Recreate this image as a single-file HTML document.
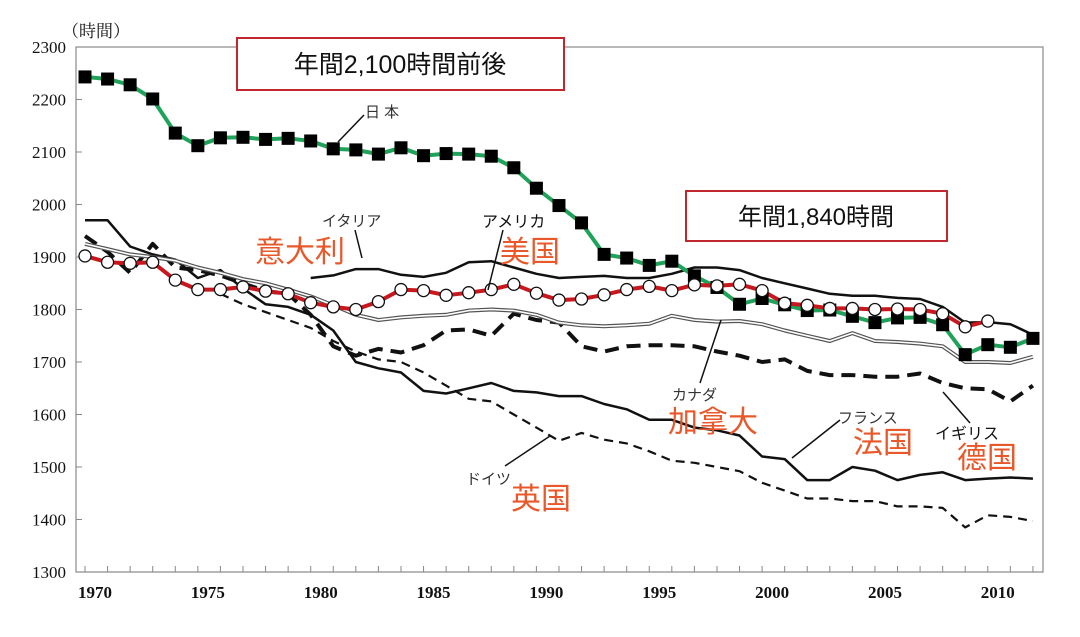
<!DOCTYPE html>
<html><head><meta charset="utf-8">
<style>
html,body{margin:0;padding:0;background:#fff;}
svg{display:block;}
.ax{font-family:"Liberation Serif","Noto Serif CJK SC",serif;font-size:17px;fill:#111;}
.jp{font-family:"Liberation Sans","Noto Sans CJK JP",sans-serif;}
</style></head>
<body>
<svg id="chart" width="1080" height="637" viewBox="0 0 1080 637" xmlns="http://www.w3.org/2000/svg">
<rect x="0" y="0" width="1080" height="637" fill="#fff"/>
<rect x="76" y="47" width="967" height="525" fill="none" stroke="#888" stroke-width="1.2"/>
<g id="axes"></g>
<g id="series"></g>
<text class="ax" x="62" y="37" font-size="15">（時間）</text>
<g>
<rect x="237" y="38" width="327" height="52" fill="#fff" stroke="#c0282d" stroke-width="2"/>
<text class="jp" x="400" y="73" font-size="25" text-anchor="middle" fill="#111">年間2,100時間前後</text>
</g>
<g>
<rect x="686" y="191" width="261" height="50" fill="#fff" stroke="#c0282d" stroke-width="2"/>
<text class="jp" x="816" y="225" font-size="24" text-anchor="middle" fill="#111">年間1,840時間</text>
</g>
<g class="jp" font-size="15" fill="#333">
<text x="365" y="117">日 本</text>
<text x="322" y="226">イタリア</text>
<text x="482" y="227" fill="#111" font-size="16">アメリカ</text>
<text x="672" y="400">カナダ</text>
<text x="838" y="423">フランス</text>
<text x="935" y="439" fill="#111" font-size="16">イギリス</text>
<text x="466" y="484">ドイツ</text>
</g>
<g class="jp" font-size="30" fill="#e8582a">
<text x="255" y="262">意大利</text>
<text x="500" y="262">美国</text>
<text x="668" y="432">加拿大</text>
<text x="853" y="453">法国</text>
<text x="957" y="468">德国</text>
<text x="511" y="509">英国</text>
</g>
<g stroke="#111" stroke-width="1.5" fill="none">
<line x1="364" y1="115" x2="338" y2="142"/>
<line x1="355" y1="230" x2="362" y2="258"/>
<line x1="503" y1="230" x2="488" y2="290"/>
<line x1="700" y1="383" x2="721" y2="320"/>
<line x1="840" y1="420" x2="792" y2="458"/>
<line x1="970" y1="423" x2="943" y2="392"/>
<line x1="505" y1="466" x2="550" y2="436"/>
</g>
</svg>
<script>
const years = [];
for (let y = 1970; y <= 2012; y++) years.push(y);
const yTicks = [1300,1400,1500,1600,1700,1800,1900,2000,2100,2200,2300];
const xLabels = [1970,1975,1980,1985,1990,1995,2000,2005,2010];
const japan = [2243,2239,2228,2201,2136,2112,2127,2128,2124,2126,2121,2106,2104,2096,2108,2093,2097,2096,2092,2070,2031,1998,1965,1905,1898,1884,1892,1864,1842,1810,1821,1809,1798,1799,1787,1775,1784,1785,1771,1714,1733,1728,1745];
const usa = [1902,1890,1888,1890,1856,1838,1838,1843,1835,1830,1813,1805,1800,1815,1838,1836,1827,1832,1838,1848,1831,1818,1820,1828,1838,1844,1836,1847,1845,1848,1836,1812,1808,1802,1802,1800,1801,1800,1792,1767,1778,null,null];
const italy = [null,null,null,null,null,null,null,null,null,null,1860,1865,1877,1877,1866,1862,1870,1890,1892,1880,1868,1860,1862,1864,1860,1860,1868,1880,1880,1875,1860,1850,1840,1830,1826,1826,1822,1820,1805,1775,1776,1772,1752];
const canada = [1925,1915,1905,1900,1893,1880,1870,1858,1850,1838,1825,1808,1790,1780,1785,1788,1790,1798,1800,1798,1790,1775,1770,1768,1770,1773,1788,1780,1777,1778,1772,1760,1750,1740,1755,1740,1738,1735,1730,1700,1700,1698,1710];
const uk = [1940,1910,1870,1925,1880,1875,1865,1850,1835,1830,1790,1730,1712,1725,1718,1732,1760,1762,1750,1792,1780,1775,1730,1720,1730,1732,1732,1730,1720,1712,1700,1705,1683,1675,1675,1672,1672,1678,1660,1650,1648,1625,1655];
const france = [1970,1970,1920,1905,1895,1860,1875,1840,1810,1805,1790,1760,1700,1688,1680,1645,1640,1650,1660,1645,1642,1635,1635,1620,1610,1590,1590,1575,1570,1560,1520,1515,1475,1475,1500,1493,1475,1485,1490,1475,1478,1480,1478];
const germany = [null,null,null,null,null,null,1830,1810,1795,1780,1765,1740,1720,1705,1700,1680,1655,1630,1625,1600,1575,1550,1565,1552,1545,1530,1512,1508,1500,1492,1470,1455,1440,1440,1435,1435,1425,1425,1422,1385,1408,1405,1397];

const NS = "http://www.w3.org/2000/svg";
function xs(yr){ return 85 + (yr - 1970) * 22.57; }
function ys(v){ return 572 - (v - 1300) * 0.525; }
function mk(tag, attrs, parent){ const e = document.createElementNS(NS, tag); for (const k in attrs) e.setAttribute(k, attrs[k]); parent.appendChild(e); return e; }

const axes = document.getElementById('axes');
yTicks.forEach(v => {
  const t = mk('text', {x: 66, y: ys(v) + 6, 'text-anchor': 'end', class: 'ax'}, axes);
  
  
  t.textContent = v;
  const l = mk('line', {x1: 76, x2: 82, y1: ys(v), y2: ys(v), stroke: '#888'}, axes);
  
  
});
years.forEach(yr => {
  const l = mk('line', {x1: xs(yr), x2: xs(yr), y1: 572, y2: 566, stroke: '#888'}, axes);
  
  
});
xLabels.forEach(yr => {
  const t = mk('text', {x: xs(yr) + 10, y: 598, 'text-anchor': 'middle', class: 'ax', 'font-weight': 'bold'}, axes);
  
  
  t.textContent = yr;
});

const g = document.getElementById('series');
function pathOf(arr){
  let d = '', started = false;
  arr.forEach((v, i) => {
    if (v == null) { started = false; return; }
    d += (started ? 'L' : 'M') + xs(years[i]).toFixed(1) + ',' + ys(v).toFixed(1);
    started = true;
  });
  return d;
}
function line(arr, name, attrs){
  const p = mk('path', Object.assign({d: pathOf(arr), fill: 'none', 'stroke-linejoin': 'round'}, attrs), g);
  
  
  return p;
}
line(germany, 'line-germany', {stroke: '#111', 'stroke-width': 2.2, 'stroke-dasharray': '9,6'});
line(france, 'line-france', {stroke: '#111', 'stroke-width': 2.5});
line(uk, 'line-uk', {stroke: '#111', 'stroke-width': 4, 'stroke-dasharray': '14,8'});
line(canada, 'line-canada-outer', {stroke: '#555', 'stroke-width': 4});
line(canada, 'line-canada-inner', {stroke: '#fff', 'stroke-width': 1.6});
line(italy, 'line-italy', {stroke: '#111', 'stroke-width': 2.5});
line(japan, 'line-japan', {stroke: '#1fa35a', 'stroke-width': 4});
line(usa, 'line-usa', {stroke: '#c8181e', 'stroke-width': 4});
japan.forEach((v, i) => {
  if (v == null) return;
  const r = mk('rect', {x: xs(years[i]) - 6.5, y: ys(v) - 6.5, width: 13, height: 13, fill: '#000'}, g);
  
  
});
usa.forEach((v, i) => {
  if (v == null) return;
  const c = mk('circle', {cx: xs(years[i]), cy: ys(v), r: 6, fill: '#fff', stroke: '#111', 'stroke-width': 1.3}, g);
  
  
});
</script>
</body></html>
